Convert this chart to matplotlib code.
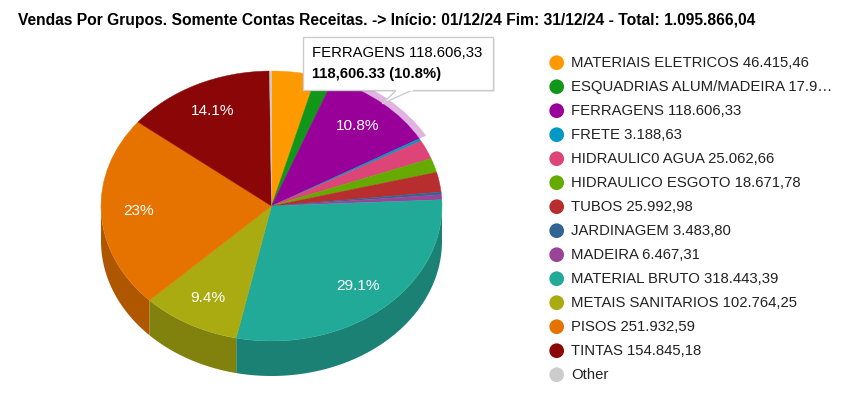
import numpy as np
import matplotlib
matplotlib.use("Agg")
import matplotlib.pyplot as plt
from matplotlib.patches import Polygon, Wedge, Rectangle
import matplotlib.colors as mcolors

plt.rcParams['font.family'] = ['Liberation Sans', 'DejaVu Sans']

title = "Vendas Por Grupos. Somente Contas Receitas. -> Início: 01/12/24 Fim: 31/12/24 - Total: 1.095.866,04"

categories = ["MATERIAIS ELETRICOS", "ESQUADRIAS ALUM/MADEIRA", "FERRAGENS", "FRETE",
              "HIDRAULIC0 AGUA", "HIDRAULICO ESGOTO", "TUBOS", "JARDINAGEM", "MADEIRA",
              "MATERIAL BRUTO", "METAIS SANITARIOS", "PISOS", "TINTAS", "Other"]
values = [46415.46, 17950.00, 118606.33, 3188.63, 25062.66, 18671.78, 25992.98,
          3483.80, 6467.31, 318443.39, 102764.25, 251932.59, 154845.18, 2041.68]
legend_labels = ["MATERIAIS ELETRICOS 46.415,46", "ESQUADRIAS ALUM/MADEIRA 17.9…",
                 "FERRAGENS 118.606,33", "FRETE 3.188,63", "HIDRAULIC0 AGUA 25.062,66",
                 "HIDRAULICO ESGOTO 18.671,78", "TUBOS 25.992,98", "JARDINAGEM 3.483,80",
                 "MADEIRA 6.467,31", "MATERIAL BRUTO 318.443,39",
                 "METAIS SANITARIOS 102.764,25", "PISOS 251.932,59", "TINTAS 154.845,18",
                 "Other"]
colors = ['#ff9900', '#109618', '#990099', '#0099c6', '#dd4477', '#66aa00', '#b82e2e',
          '#316395', '#994499', '#22aa99', '#aaaa11', '#e67300', '#8b0707', '#cccccc']
highlight = 2
tooltip_lines = ["FERRAGENS 118.606,33", "118,606.33 (10.8%)"]

# layout (pixels)
W, H = 866, 398
CX, CY, RX, RY = 271.5, 206.0, 170.5, 135.0
DEPTH = 35.0 / RY
FS = 10.7

fig = plt.figure(figsize=(W / 100, H / 100), dpi=100)
fig.patch.set_facecolor('white')

XL, YL = (-1.3, 1.3), (-1.4, 1.25)
ax = fig.add_axes([(CX + XL[0] * RX) / W, (H - (CY - YL[0] * RY)) / H,
                   (XL[1] - XL[0]) * RX / W, (YL[1] - YL[0]) * RY / H])

vals = np.array(values)
cum = np.concatenate([[0], np.cumsum(vals) / vals.sum()]) * 360.0

def darker(c, f=0.76):
    r, g, b = mcolors.to_rgb(c)
    return (r * f, g * f, b * f)

# side walls (front half only)
for i, c in enumerate(colors):
    lo, hi = max(cum[i], 90.0), min(cum[i + 1], 270.0)
    if hi > lo:
        t = np.radians(np.linspace(lo, hi, 80))
        xs = np.sin(t)
        ys = np.cos(t)
        pts = np.vstack([np.column_stack([xs, ys]),
                         np.column_stack([xs[::-1], ys[::-1] - DEPTH])])
        ax.add_patch(Polygon(pts, closed=True, facecolor=darker(c),
                             edgecolor='none', linewidth=0, zorder=1))

# highlight ring
a1, a2 = cum[highlight], cum[highlight + 1]
hc = mcolors.to_rgb(colors[highlight])
ring_col = tuple(0.3 * v + 0.7 for v in hc)
ax.add_patch(Wedge((0, 0), 1.045, 90 - a2, 90 - a1, width=0.05,
                   facecolor=ring_col, edgecolor='none', zorder=1.5))

def fmt(p):
    if p < 5:
        return ''
    s = f"{p:.1f}"
    if s.endswith('.0'):
        s = s[:-2]
    return s + '%'

wedges, texts, autotexts = ax.pie(values, colors=colors, startangle=90,
                                  counterclock=False, radius=1.0,
                                  autopct=fmt, pctdistance=0.78,
                                  textprops=dict(color='white', fontsize=11.1))
for w in wedges:
    w.set_edgecolor(w.get_facecolor())
    w.set_linewidth(0.3)
    w.set_zorder(2)
for t in autotexts:
    t.set_zorder(3)
ax.set_aspect('auto')
ax.set_xlim(*XL)
ax.set_ylim(*YL)
ax.axis('off')

# overlay in pixel coordinates
ov = fig.add_axes([0, 0, 1, 1])
ov.set_xlim(0, W)
ov.set_ylim(H, 0)
ov.axis('off')
ov.patch.set_alpha(0)

ov.text(18, 20, title, fontsize=11.25, fontweight='bold', color='#000000',
        va='center', ha='left')

# legend
for i, (lab, c) in enumerate(zip(legend_labels, colors)):
    y = 62.7 + 24 * i
    ov.scatter([556.7], [y], s=112, color=c, edgecolors='none', zorder=3)
    ov.text(571, y, lab, fontsize=FS, color='#222222', va='center', ha='left')

# tooltip
mid = np.radians((a1 + a2) / 2)
apex_disp = ax.transData.transform((np.sin(mid) * 1.0, np.cos(mid) * 1.0))
apx, apy = ov.transData.inverted().transform(apex_disp)
bx, by, bw, bh = 303, 37, 190, 53
ov.add_patch(Rectangle((bx + 1.5, by + 1.5), bw, bh, facecolor='#000000', alpha=0.08,
                       edgecolor='none', zorder=4))
ov.add_patch(Rectangle((bx, by), bw, bh, facecolor='white', edgecolor='#cccccc',
                       linewidth=1, zorder=5))
p1, p2 = (apx + 14, by + bh), (apx + 30, by + bh)
ov.add_patch(Polygon([p1, (apx, apy), p2], closed=True, facecolor='white',
                     edgecolor='none', zorder=6))
ov.plot([p1[0], apx, p2[0]], [p1[1], apy, p2[1]], color='#cccccc', lw=1, zorder=7)
ov.plot([p1[0] + 0.5, p2[0] - 0.5], [by + bh, by + bh], color='white', lw=1.5, zorder=7)
ov.text(bx + 9, by + 16, tooltip_lines[0], fontsize=FS, color='#000000', va='center',
        ha='left', zorder=8)
ov.text(bx + 9, by + 37, tooltip_lines[1], fontsize=FS, color='#000000', va='center',
        ha='left', fontweight='bold', zorder=8)

fig.savefig('out.png', dpi=100, facecolor='white')
